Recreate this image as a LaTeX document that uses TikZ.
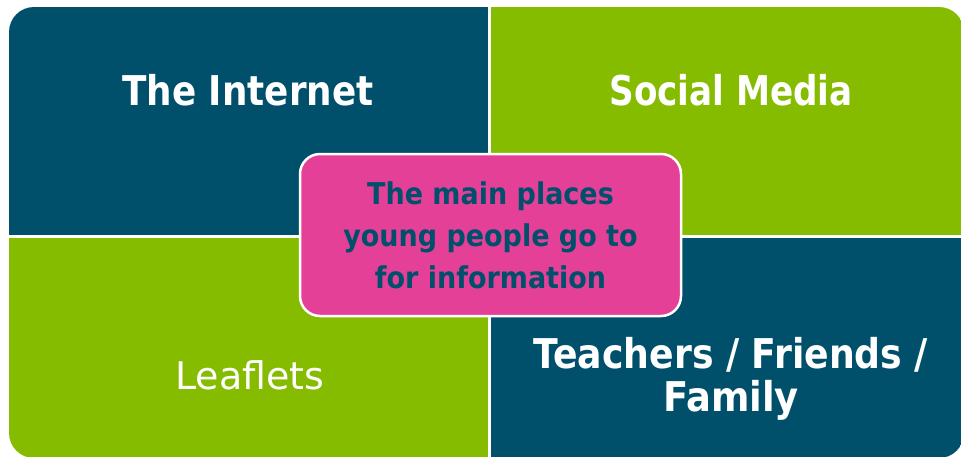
\documentclass[tikz,border=0pt]{standalone}
\usepackage{fontspec}
\usepackage{graphicx}
\setmainfont{DejaVu Sans Condensed}
\newfontfamily\widefont{DejaVu Sans}
\definecolor{teal}{RGB}{0,80,107}
\definecolor{lime}{RGB}{134,188,0}
\definecolor{rose}{RGB}{229,64,152}
\tikzset{
  bigtext/.style={text=white, font=\fontsize{41}{43}\selectfont\bfseries, align=center},
  hubbox/.style={fill=rose, draw=white, line width=2.5pt, rounded corners=20pt,
    minimum width=381pt, minimum height=162pt, inner sep=0pt,
    text=teal, font=\fontsize{30}{42}\selectfont\bfseries, align=center}
}
\begin{document}
\begin{tikzpicture}[x=1pt, y=-1pt]
  \useasboundingbox (0,0) rectangle (961,456);
  % four quadrants inside a rounded outline
  \begin{scope}
    \clip[rounded corners=25pt] (9,7) rectangle (964,458);
    \fill[teal] (0,0) rectangle (488,235);
    \fill[lime] (491,0) rectangle (970,235);
    \fill[lime] (0,238) rectangle (488,470);
    \fill[teal] (491,238) rectangle (970,470);
  \end{scope}
  \node[bigtext, anchor=base] (internet) at (248,105) {\scalebox{0.969}[1]{The Internet}};
  \node[bigtext, anchor=base] (social) at (731,105) {\scalebox{0.927}[1]{Social Media}};
  \node[text=white, font=\widefont\fontsize{38}{40}\selectfont, anchor=base] (leaflets) at (250,389) {Leaflets};
  \node[bigtext, anchor=center] (people) at (731,378.5) {\scalebox{0.982}[1]{Teachers / Friends /}\\Family};
  \node[hubbox] (hub) at (490.5,235) {The main places\\young people go to\\for information};
\end{tikzpicture}
\end{document}
